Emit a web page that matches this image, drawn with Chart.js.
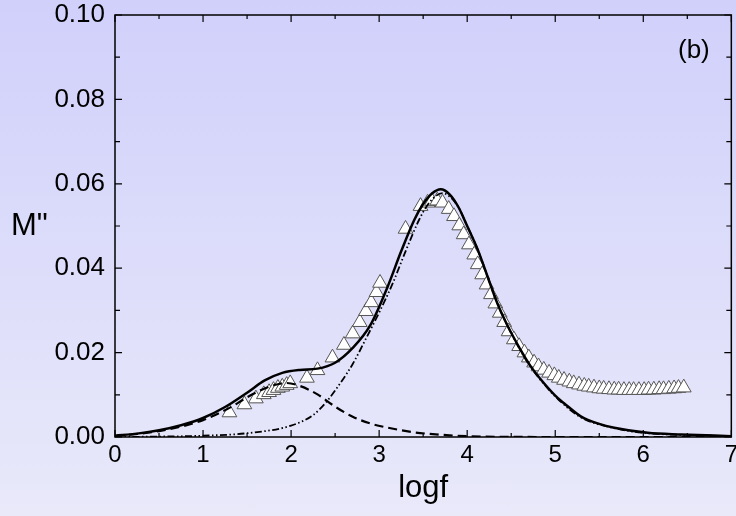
<!DOCTYPE html>
<html>
<head>
<meta charset="utf-8">
<script src="https://cdn.jsdelivr.net/npm/chart.js@4"></script>
<style>
  body { margin: 0; overflow: hidden; }
  #wrap {
    width: 736px; height: 516px; overflow: hidden;
    background: linear-gradient(to bottom, #d0d0fb, #e9e9fa);
  }
</style>
</head>
<body>
<div id="wrap"><canvas id="grafico" width="742" height="516"></canvas></div>
<script>
// measured points (triangles)
const dataX = [1.30, 1.47, 1.60, 1.69, 1.75, 1.80, 1.85, 1.90, 1.95, 1.99, 2.18, 2.30, 2.47, 2.60, 2.70, 2.78, 2.85, 2.91, 2.97, 3.01,
  3.30, 3.47, 3.55, 3.60, 3.66, 3.72, 3.79, 3.85, 3.91, 3.96, 4.02, 4.08, 4.12, 4.17, 4.22, 4.27, 4.32, 4.37, 4.42, 4.47,
  4.53, 4.59, 4.65, 4.70, 4.76, 4.81, 4.87, 4.93, 4.99, 5.04, 5.10, 5.16, 5.21, 5.27, 5.33, 5.38, 5.44, 5.50, 5.55, 5.61,
  5.67, 5.72, 5.78, 5.84, 5.89, 5.95, 6.01, 6.06, 6.12, 6.18, 6.23, 6.29, 6.35, 6.40, 6.46];
const dataY = [0.0058, 0.0077, 0.0091, 0.0101, 0.0106, 0.0111, 0.0116, 0.0119, 0.0123, 0.0127, 0.0140, 0.0158, 0.0188, 0.0218, 0.0245, 0.0272, 0.0298, 0.0319, 0.0343, 0.0365,
  0.0493, 0.0547, 0.0555, 0.0559, 0.0560, 0.0555, 0.0540, 0.0523, 0.0501, 0.0480, 0.0456, 0.0432, 0.0409, 0.0385, 0.0361, 0.0338, 0.0316, 0.0294, 0.0272, 0.0250,
  0.0231, 0.0215, 0.0200, 0.0188, 0.0176, 0.0167, 0.0159, 0.0152, 0.0146, 0.0140, 0.0135, 0.0131, 0.0127, 0.0124, 0.0121, 0.0119, 0.0117, 0.0115, 0.0114, 0.0113,
  0.0112, 0.0112, 0.0111, 0.0111, 0.0111, 0.0111, 0.0111, 0.0112, 0.0112, 0.0113, 0.0113, 0.0114, 0.0115, 0.0116, 0.0117];

// total fit (solid)
const fitX = [0, 0.25, 0.5, 0.75, 1.0, 1.25, 1.5, 1.7, 1.9, 2.1, 2.3, 2.5, 2.7, 2.9, 3.1, 3.25, 3.4, 3.5, 3.6, 3.7, 3.8, 3.9, 4.0,
  4.12, 4.23, 4.34, 4.46, 4.6, 4.72, 4.87, 5.03, 5.1, 5.29, 5.5, 5.67, 6.05, 6.43, 7.0];
const fitY = [0.0003, 0.0008, 0.0016, 0.0028, 0.0045, 0.0071, 0.0105, 0.0134, 0.0152, 0.0159, 0.0162, 0.0176, 0.0211, 0.0265, 0.0358, 0.0440, 0.0515, 0.0552, 0.0577, 0.0587, 0.0575, 0.0545, 0.0500,
  0.0444, 0.0381, 0.0318, 0.0263, 0.0209, 0.0168, 0.0128, 0.0092, 0.0080, 0.0049, 0.0031, 0.0022, 0.0010, 0.0006, 0.0002];

// low frequency component (dashed)
const lowX = [0, 0.5, 1.0, 1.3, 1.5, 1.7, 1.85, 1.95, 2.1, 2.3, 2.5, 2.7, 2.9, 3.1, 3.4, 3.8, 4.2, 5.0, 6.0, 7.0];
const lowY = [0.0002, 0.0014, 0.0040, 0.0069, 0.0094, 0.0115, 0.0125, 0.0128, 0.0121, 0.0101, 0.0072, 0.0048, 0.0032, 0.0022, 0.0011, 0.0004, 0.0001, 0, 0, 0];

// high frequency component (dash-dot-dot)
const highX = [0, 0.5, 1.0, 1.5, 2.0, 2.25, 2.4, 2.55, 2.7, 2.85, 3.0, 3.15, 3.3, 3.45, 3.55, 3.65, 3.72, 3.8, 3.9, 4.0,
  4.12, 4.23, 4.34, 4.46, 4.6, 4.72, 4.87, 5.03, 5.29, 5.67, 6.05, 6.43, 7.0];
const highY = [0, 0.0001, 0.0003, 0.0009, 0.0027, 0.0052, 0.0083, 0.0125, 0.0173, 0.0233, 0.0295, 0.0362, 0.0440, 0.0513, 0.0550, 0.0572, 0.0578, 0.0570, 0.0545, 0.0500,
  0.0444, 0.0381, 0.0318, 0.0263, 0.0207, 0.0166, 0.0126, 0.0090, 0.0047, 0.0021, 0.0009, 0.0005, 0.0002];

const xTicks = [0, 1, 2, 3, 4, 5, 6, 7];
const yTicks = [0, 0.02, 0.04, 0.06, 0.08, 0.10];

const pts = (xs, ys) => xs.map((x, i) => ({ x: x, y: ys[i] }));
const FONT = '"Liberation Sans", Arial, sans-serif';

// frame + inward ticks on all four sides, extra labels
const framePlugin = {
    id: 'frame',
    afterDraw(chart) {
        const ctx = chart.ctx;
        const a = chart.chartArea;
        const xs = chart.scales.x, ys = chart.scales.y;
        ctx.save();
        ctx.strokeStyle = '#000';
        ctx.lineWidth = 1.5;
        ctx.strokeRect(a.left, a.top, a.right - a.left, a.bottom - a.top);
        ctx.lineWidth = 1.2;
        ctx.beginPath();
        for (let v = 0; v <= 7.001; v += 0.5) {
            const px = xs.getPixelForValue(v);
            const len = Math.abs(v - Math.round(v)) < 0.01 ? 7 : 4;
            ctx.moveTo(px, a.bottom); ctx.lineTo(px, a.bottom - len);
            ctx.moveTo(px, a.top); ctx.lineTo(px, a.top + len);
        }
        for (let v = 0; v <= 0.1001; v += 0.01) {
            const py = ys.getPixelForValue(v);
            const major = Math.round(v * 100) % 2 === 0;
            const len = major ? 7 : 5;
            ctx.moveTo(a.left, py); ctx.lineTo(a.left + len, py);
            ctx.moveTo(a.right, py); ctx.lineTo(a.right - len, py);
        }
        ctx.stroke();
        ctx.fillStyle = '#000';
        ctx.font = '31px ' + FONT;
        ctx.textAlign = 'left';
        ctx.textBaseline = 'alphabetic';
        ctx.fillText('M"', 11, 235);
        ctx.font = '26px ' + FONT;
        ctx.fillText('(b)', 678, 58);
        ctx.restore();
    }
};

const ctx = document.getElementById('grafico').getContext('2d');
const chart = new Chart(ctx, {
    type: 'scatter',
    data: {
        datasets: [
            {
                label: 'fit',
                data: pts(fitX, fitY),
                showLine: true,
                borderColor: '#000',
                borderWidth: 2.5,
                pointRadius: 0,
                cubicInterpolationMode: 'monotone',
                order: 1
            },
            {
                label: 'low',
                data: pts(lowX, lowY),
                showLine: true,
                borderColor: '#000',
                borderWidth: 2.2,
                borderDash: [9, 5],
                pointRadius: 0,
                cubicInterpolationMode: 'monotone',
                order: 2
            },
            {
                label: 'high',
                data: pts(highX, highY),
                showLine: true,
                borderColor: '#000',
                borderWidth: 1.8,
                borderDash: [7, 2.5, 1.5, 2.5, 1.5, 2.5],
                pointRadius: 0,
                cubicInterpolationMode: 'monotone',
                order: 3
            },
            {
                label: 'data',
                data: pts(dataX, dataY),
                showLine: false,
                pointStyle: 'triangle',
                pointRadius: 8.5,
                pointBackgroundColor: '#ffffff',
                pointBorderColor: '#555555',
                pointBorderWidth: 1,
                order: 4
            }
        ]
    },
    options: {
        responsive: false,
        animation: false,
        events: [],
        layout: { padding: { top: 15, right: 0, left: 0, bottom: 0 } },
        plugins: {
            legend: { display: false },
            tooltip: { enabled: false }
        },
        scales: {
            x: {
                type: 'linear',
                min: 0,
                max: 7,
                afterFit: (s) => { s.height = 79; },
                afterBuildTicks: (s) => { s.ticks = xTicks.map(v => ({ value: v })); },
                grid: { display: false, drawTicks: false },
                border: { display: false },
                ticks: {
                    padding: 4,
                    color: '#000',
                    font: { family: FONT, size: 24 },
                    callback: (v) => v.toString()
                },
                title: {
                    display: true,
                    text: 'logf',
                    color: '#000',
                    font: { family: FONT, size: 31 },
                    padding: { top: 0, bottom: 9 }
                }
            },
            y: {
                type: 'linear',
                min: 0,
                max: 0.1,
                afterFit: (s) => { s.width = 115; s.paddingTop = 0; s.paddingBottom = 0; },
                afterBuildTicks: (s) => { s.ticks = yTicks.map(v => ({ value: v })); },
                grid: { display: false, drawTicks: false },
                border: { display: false },
                ticks: {
                    padding: 10,
                    color: '#000',
                    font: { family: FONT, size: 26 },
                    callback: (v) => v.toFixed(2)
                }
            }
        }
    },
    plugins: [framePlugin]
});
</script>
</body>
</html>
